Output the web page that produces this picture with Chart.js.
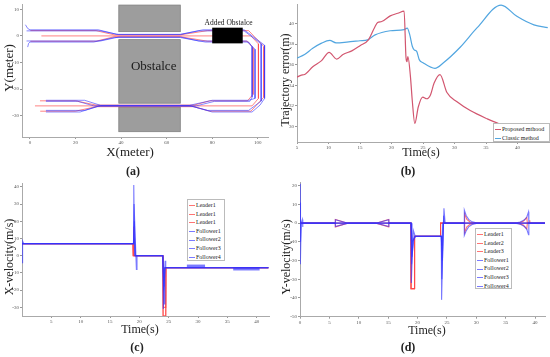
<!DOCTYPE html>
<html>
<head>
<meta charset="utf-8">
<script src="https://cdn.jsdelivr.net/npm/chart.js@4.4.0/dist/chart.umd.min.js"></script>
<style>
  body { margin: 0; width: 550px; height: 357px; position: relative; background: #fff; overflow: hidden; font-family: "Liberation Serif", serif; }
  canvas { position: absolute; }
  .t { position: absolute; white-space: nowrap; color: #222; transform: translate(-50%, -50%); }
  .rot { transform: translate(-50%, -50%) rotate(-90deg); }
  .lab { font-weight: bold; font-size: 12px; }
  .leg { position: absolute; background: #fff; border: 1px solid #bbb; font-size: 6px; line-height: 8.6px; padding: 1px 2px 0 1px; box-sizing: border-box; color: #222; white-space: nowrap; }
  .leg span { display: inline-block; width: 6px; height: 0; vertical-align: middle; margin-right: 1px; border-top: 1.2px solid; }
</style>
</head>
<body>
<canvas id="chartA" width="275" height="160" style="left:0;top:0"></canvas>
<canvas id="chartB" width="275" height="160" style="left:275px;top:0"></canvas>
<canvas id="chartC" width="275" height="150" style="left:0;top:178px"></canvas>
<canvas id="chartD" width="275" height="150" style="left:275px;top:178px"></canvas>

<div class="t rot" style="left:9px;top:68px;font-size:13px">Y(meter)</div>
<div class="t" style="left:130px;top:152px;font-size:13px">X(meter)</div>
<div class="t lab" style="left:133px;top:171px">(a)</div>
<div class="t rot" style="left:285px;top:80px;font-size:12px">Trajectory error(m)</div>
<div class="t" style="left:421px;top:152px;font-size:12px">Time(s)</div>
<div class="t lab" style="left:408px;top:171px">(b)</div>
<div class="t rot" style="left:9px;top:257px;font-size:12px">X-velocity(m/s)</div>
<div class="t" style="left:140px;top:329px;font-size:12px">Time(s)</div>
<div class="t lab" style="left:137px;top:347px">(c)</div>
<div class="t rot" style="left:286px;top:257px;font-size:12px">Y-velocity(m/s)</div>
<div class="t" style="left:427px;top:330px;font-size:12px">Time(s)</div>
<div class="t lab" style="left:408px;top:347px">(d)</div>

<div class="leg" id="legB" style="left:493px;top:123px;width:57px;height:19px"></div>
<div class="leg" id="legC" style="left:187px;top:199px;width:38px;height:62px"></div>
<div class="leg" id="legD" style="left:475px;top:228px;width:37px;height:61px"></div>

<script>
// ---------- (a) formation trajectories, metres ----------
const leader1X = [0.2, 29, 37, 66, 78, 96, 102.7, 102.7, 97, 79, 72, 29, 20, 4.5];
const leader1Y = [2, 2, 0.4, 0.4, 2, 2, -4, -23, -28.3, -28.3, -26.6, -26.6, -28.3, -28.3];
const leader2X = [5, 97, 100.3, 100.3, 97.5, 2.2];
const leader2Y = [0, 0, -3, -23.5, -26.3, -26.3];
const leader3X = [0.2, 29, 37, 66, 78, 95.5, 97.9, 97.9, 95.5, 79, 72, 29, 20, 4.4];
const leader3Y = [-2, -2, -0.3, -0.3, -2, -2, -4.5, -22, -24.4, -24.4, -26, -26, -24.4, -24.4];
const follower1X = [-2, -1, 0, 30, 38, 66, 76, 94, 103, 103, 101, 97.5, 80, 71, 30, 22, 7];
const follower1Y = [4.2, 2.8, 2.3, 2.3, 0.6, 0.6, 2.3, 2.3, -3.5, -23.5, -26, -28.6, -28.6, -26.4, -26.4, -28.6, -28.6];
const follower2X = [-1.5, 31, 39, 66, 74, 94, 101.5, 101.5, 96, 78, 70, 31, 24, 7];
const follower2Y = [1.9, 1.9, 0.5, 0.5, 1.9, 1.9, -3, -24.5, -28, -28, -26.2, -26.2, -28, -28];
const follower3X = [-1.5, 31, 39, 66, 74, 95, 98.8, 98.8, 96, 80, 70, 31, 24, 7];
const follower3Y = [-1.9, -1.9, -0.4, -0.4, -1.9, -1.9, -5, -23.5, -24.2, -24.2, -26.1, -26.1, -24.2, -24.2];
const follower4X = [-1, -0.6, 0, 28, 37, 66, 77, 96, 97.5, 97.5, 96.5, 81, 73, 28, 21, 7];
const follower4Y = [-4.2, -2.8, -2.3, -2.3, -0.6, -0.6, -2.3, -2.3, -4, -23, -24.6, -24.6, -26.3, -26.3, -24.6, -24.6];

// obstacles (metres): three grey blocks and the added black one
const blockX0 = [39, 39, 39];
const blockX1 = [66, 66, 66];
const blockY0 = [1.6, -25.3, -36];
const blockY1 = [11.6, -1.4, -26.8];
const addedX = [80, 93.4];
const addedY = [-2.8, 3.1];

const ticksAX = [0, 20, 40, 60, 80, 100];
const ticksAY = [-30, -20, -10, 0, 10];

// ---------- (b) trajectory error ----------
const proposedT = [5, 5.7, 6.2, 7.5, 8.9, 10.1, 11.3, 12.3, 13.7, 15, 16.3, 17.3, 17.8, 18.45, 19.8, 21.0, 22.0, 22.3, 22.45, 22.6, 23.0, 23.3, 23.7, 24.25, 24.95, 25.6, 26.2, 26.75, 27.7, 28.8, 30.4, 32.5, 35.2, 37, 40, 45];
const proposedErr = [34.8, 35.0, 35.05, 35.8, 36.4, 37.2, 36.55, 37.0, 37.35, 37.85, 38.4, 39.6, 40.1, 40.2, 40.75, 41.0, 41.2, 36.7, 36.3, 36.8, 34.9, 32.5, 30.3, 31.9, 32.85, 32.7, 33.1, 34.2, 35.05, 33.3, 32.4, 31.55, 30.75, 30.3, 29.8, 29.3];
const classicT = [5, 6.2, 7.5, 8.9, 10.2, 11.2, 12.9, 15, 16.2, 17.4, 19.8, 22.0, 22.5, 22.9, 23.3, 23.6, 24.0, 24.4, 25.0, 26.9, 28.2, 30.9, 33.6, 37.4, 39.9, 42.6, 44.8];
const classicErr = [36.65, 37.0, 37.6, 38.1, 38.36, 38.13, 38.2, 38.33, 38.42, 38.9, 39.3, 39.42, 39.55, 38.9, 37.8, 37.45, 37.3, 36.5, 36.2, 35.65, 36.17, 37.7, 39.6, 41.8, 40.7, 39.87, 39.6];
const ticksBX = [5, 10, 15, 20, 25, 30, 35, 40];
const ticksBY = [30, 32, 34, 36, 38, 40];

// ---------- (c) x-velocity ----------
const cLeader1T = [0, 18.9, 18.95, 19.05, 19.1, 24.0, 24.05, 24.5, 24.55, 42];
const cLeader1V = [7, 7, 0, 17, 0, 0, -35, -35, -7, -7];
const cLeader2T = [0, 18.9, 18.95, 24.0, 24.05, 24.5, 24.55, 42];
const cLeader2V = [7, 7, 0, 0, -35, -35, -7, -7];
const cLeader3T = [0, 18.95, 19.0, 24.05, 24.1, 24.45, 24.5, 42];
const cLeader3V = [7, 7, 0, 0, -30, -30, -7, -7];
const cFollower1T = [0, 0.1, 0.3, 19.0, 19.05, 19.2, 24.0, 24.1, 24.3, 42];
const cFollower1V = [-4, 8.5, 7, 7, 41, 0, 0, -31, -7, -7];
const cFollower2T = [0, 19.0, 19.1, 19.5, 19.6, 24.0, 24.15, 24.4, 24.5, 42];
const cFollower2V = [7, 7, 30, -8, 0, 0, -20, -3, -7, -7];
const cFollower3T = [0, 19.0, 19.15, 19.3, 24.0, 24.1, 24.25, 24.35, 42];
const cFollower3V = [7, 7, 20, 0, 0, -10, -28, -7, -7];
const cFollower4T = [0, 19.0, 19.2, 19.35, 24.0, 24.2, 24.4, 42];
const cFollower4V = [7, 7, 9, 0, 0, -18, -7, -7];
const cBand1T = [28.1, 31.2];
const cBand1V = [-6.1, -6.1];
const cBand2T = [36, 40.5];
const cBand2V = [-7.7, -7.7];
const ticksCX = [5, 10, 15, 20, 25, 30, 35, 40];
const ticksCY = [-30, -20, -10, 0, 10, 20, 30, 40];

// ---------- (d) y-velocity ----------
const dLeader1T = [0, 6.0, 6.02, 8.1, 12.95, 15.1, 15.12, 18.88, 18.9, 19.45, 19.5, 23.9, 23.92, 28.0, 28.02, 28.4, 29, 29.8, 37, 38, 38.6, 38.7, 42];
const dLeader1V = [0, 0, 2, 0, 0, 2, 0, 0, -35, -35, -7, -7, 0, 0, 5, 2, 0.5, 0, 0, 1, 3, 0, 0];
const dLeader2T = [0, 18.88, 18.9, 19.45, 19.5, 23.9, 23.92, 39.05, 39.1, 39.15, 42];
const dLeader2V = [0, 0, -35, -35, -7, -7, 0, 0, 1.5, 0, 0];
const dLeader3T = [0, 6.0, 6.02, 8.1, 12.95, 15.1, 15.12, 18.88, 18.9, 19.45, 19.5, 23.9, 23.92, 28.0, 28.02, 28.4, 29, 29.8, 37, 38, 38.6, 38.7, 42];
const dLeader3V = [0, 0, -2, 0, 0, -2, 0, 0, -35, -35, -7, -7, 0, 0, -5, -2, -0.5, 0, 0, -1, -3, 0, 0];
const dFollower1T = [0, 0.03, 0.1, 0.2, 6.0, 6.02, 8.2, 12.95, 15.1, 15.12, 18.9, 18.95, 19.2, 19.5, 24.05, 24.1, 24.4, 27.95, 27.97, 28.3, 28.7, 29.3, 30.2, 36.6, 37.5, 38.2, 38.6, 38.9, 38.95, 42];
const dFollower1V = [0, 21, -22, 0, 0, 1.8, 0, 0, 1.8, 0, 0, -32, -10, -7, -7, -41, 0, 0, 7, 4, 2, 0.7, 0, 0, 0.6, 1.8, 3.3, 6.1, 0, 0];
const dFollower2T = [0, 0.05, 0.12, 0.2, 0.4, 0.45, 0.5, 6.0, 6.02, 8.2, 12.95, 15.1, 15.12, 18.9, 19.0, 19.3, 19.6, 24.05, 24.15, 24.5, 24.7, 27.95, 27.97, 28.3, 28.7, 29.3, 30.2, 36.6, 37.5, 38.2, 38.6, 38.9, 38.95, 42];
const dFollower2V = [0, 11, -10, 0, 2, -2, 0, 0, -1.8, 0, 0, -1.8, 0, 0, -22, -4, -7, -7, -30, 8, 0, 0, -6.6, -4, -2, -0.7, 0, 0, -0.6, -1.8, -3.3, -6.2, 0, 0];
const dFollower3T = [0, 18.9, 19.05, 19.4, 19.7, 24.05, 24.2, 24.45, 24.6, 42];
const dFollower3V = [0, 0, -18, -8, -7, -7, -20, 4, 0, 0];
const dFollower4T = [0, 18.9, 19.1, 19.7, 24.05, 24.15, 24.3, 42];
const dFollower4V = [0, 0, -10, -7, -7, -12, 0, 0];
const ticksDX = [0, 5, 10, 15, 20, 25, 30, 35, 40];
const ticksDY = [-50, -40, -30, -20, -10, 0, 10, 20];

const legendNamesB = ['Proposed mthood', 'Classic method'];
const legendNamesC = ['Leader1', 'Leader1', 'Leader1', 'Follower1', 'Follower2', 'Follower3', 'Follower4'];
const legendNamesD = ['Leader1', 'Leader2', 'Leader3', 'Follower1', 'Follower2', 'Follower3', 'Follower4'];

const RED = 'rgba(255, 70, 70, 0.75)';
const BLUE = 'rgba(50, 50, 255, 0.65)';
const FONT = 'Liberation Serif';

const pts = (xs, ys) => xs.map((x, i) => ({ x: x, y: ys[i] }));

function line(xs, ys, color, width) {
  return { data: pts(xs, ys), showLine: true, borderColor: color, borderWidth: width || 1.1,
           pointRadius: 0, tension: 0, fill: false };
}

// axes with a fixed plot box (canvas coords) so the panels line up with the figure
function panel(box, xr, yr, xTicks, yTicks) {
  const axis = (min, max, tickVals, isX) => ({
    type: 'linear', min: min, max: max,
    grid: { drawOnChartArea: false, tickLength: 2, color: '#999' },
    border: { color: '#aaa' },
    ticks: { font: { size: 5, family: FONT }, color: '#555', padding: 1, maxRotation: 0, autoSkip: false },
    afterBuildTicks: s => { s.ticks = tickVals.map(v => ({ value: v })); },
    afterFit: s => { if (isX) s.height = box.h - box.bottom; else s.width = box.left; }
  });
  return {
    responsive: false, animation: false, events: [],
    layout: { padding: { left: 0, top: box.top, right: box.w - box.right, bottom: 0 } },
    plugins: { legend: { display: false }, tooltip: { enabled: false } },
    scales: { x: axis(xr[0], xr[1], xTicks, true), y: axis(yr[0], yr[1], yTicks, false) }
  };
}

function fillLegend(id, names, colors) {
  document.getElementById(id).innerHTML = names
    .map((n, i) => '<div><span style="border-color:' + colors[i] + '"></span>' + n + '</div>').join('');
}

// ---------- (a) ----------
const obstaclePlugin = {
  id: 'obstacles',
  beforeDatasetsDraw(chart) {
    const { ctx, scales: { x, y } } = chart;
    ctx.save();
    ctx.fillStyle = '#9d9d9d';
    ctx.strokeStyle = '#808080';
    ctx.lineWidth = 0.8;
    blockX0.forEach((x0, i) => {
      const px = x.getPixelForValue(x0), py = y.getPixelForValue(blockY1[i]);
      const w = x.getPixelForValue(blockX1[i]) - px, h = y.getPixelForValue(blockY0[i]) - py;
      ctx.fillRect(px, py, w, h);
      ctx.strokeRect(px, py, w, h);
    });
    ctx.fillStyle = '#1a1a1a';
    ctx.font = '13px ' + FONT;
    ctx.textAlign = 'center';
    ctx.textBaseline = 'middle';
    ctx.fillText('Obstalce', x.getPixelForValue(54.3), y.getPixelForValue(-11.4));
    ctx.restore();
  },
  afterDatasetsDraw(chart) {
    const { ctx, scales: { x, y } } = chart;
    ctx.save();
    const px = x.getPixelForValue(addedX[0]), py = y.getPixelForValue(addedY[1]);
    ctx.fillStyle = '#000';
    ctx.fillRect(px, py, x.getPixelForValue(addedX[1]) - px, y.getPixelForValue(addedY[0]) - py);
    ctx.fillStyle = '#1a1a1a';
    ctx.font = '7.5px ' + FONT;
    ctx.textAlign = 'center';
    ctx.textBaseline = 'middle';
    ctx.fillText('Added Obstalce', x.getPixelForValue(87.2), y.getPixelForValue(4.9));
    ctx.restore();
  }
};

new Chart(document.getElementById('chartA'), {
  type: 'scatter',
  data: { datasets: [
    line(follower1X, follower1Y, BLUE, 0.9), line(follower2X, follower2Y, BLUE, 0.9),
    line(follower3X, follower3Y, BLUE, 0.9), line(follower4X, follower4Y, BLUE, 0.9),
    line(leader1X, leader1Y, RED, 0.9), line(leader2X, leader2Y, RED, 0.9), line(leader3X, leader3Y, RED, 0.9)
  ] },
  options: panel({ left: 22, top: 4, right: 268, bottom: 137, w: 275, h: 160 }, [-3.5, 104.5], [-38, 12], ticksAX, ticksAY),
  plugins: [obstaclePlugin]
});

// ---------- (b) ----------
const optB = panel({ left: 22, top: 4, right: 274, bottom: 142, w: 275, h: 160 }, [5, 45], [28.5, 41.9], ticksBX, ticksBY);
const redB = '#d2566f', blueB = '#52a6e0';
const dsProposed = line(proposedT, proposedErr, redB, 1.2);
const dsClassic = line(classicT, classicErr, blueB, 1.2);
dsProposed.cubicInterpolationMode = 'monotone';
dsClassic.cubicInterpolationMode = 'monotone';
new Chart(document.getElementById('chartB'), { type: 'scatter', data: { datasets: [dsProposed, dsClassic] }, options: optB });
fillLegend('legB', legendNamesB, [redB, blueB]);

// ---------- (c) ----------
new Chart(document.getElementById('chartC'), {
  type: 'scatter',
  data: { datasets: [
    line(cBand1T, cBand1V, BLUE, 3.3), line(cBand2T, cBand2V, BLUE, 3),
    line(cFollower1T, cFollower1V, BLUE), line(cFollower2T, cFollower2V, BLUE),
    line(cFollower3T, cFollower3V, BLUE), line(cFollower4T, cFollower4V, BLUE),
    line(cLeader1T, cLeader1V, RED), line(cLeader2T, cLeader2V, RED), line(cLeader3T, cLeader3V, RED)
  ] },
  options: panel({ left: 22, top: 5, right: 269, bottom: 138, w: 275, h: 150 }, [0, 42.1], [-35, 42.2], ticksCX, ticksCY)
});
fillLegend('legC', legendNamesC, [RED, RED, RED, BLUE, BLUE, BLUE, BLUE]);

// ---------- (d) ----------
new Chart(document.getElementById('chartD'), {
  type: 'scatter',
  data: { datasets: [
    line(dFollower1T, dFollower1V, BLUE), line(dFollower2T, dFollower2V, BLUE),
    line(dFollower3T, dFollower3V, BLUE), line(dFollower4T, dFollower4V, BLUE),
    line(dLeader1T, dLeader1V, RED), line(dLeader2T, dLeader2V, RED), line(dLeader3T, dLeader3V, RED)
  ] },
  options: panel({ left: 25, top: 2, right: 270, bottom: 138.7, w: 275, h: 150 }, [0, 41.7], [-50, 22], ticksDX, ticksDY)
});
fillLegend('legD', legendNamesD, [RED, RED, RED, BLUE, BLUE, BLUE, BLUE]);
</script>
</body>
</html>
